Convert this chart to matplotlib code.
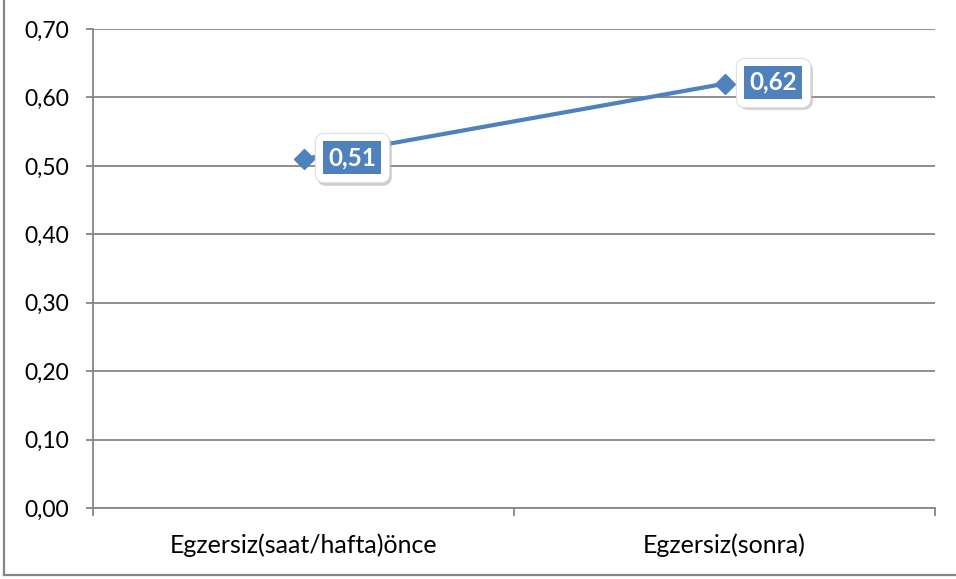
import matplotlib
matplotlib.use("Agg")
import matplotlib.pyplot as plt
from matplotlib.lines import Line2D
import matplotlib.patheffects as pe

# veriler
kategoriler = ["Egzersiz(saat/hafta)önce", "Egzersiz(sonra)"]
degerler = [0.51, 0.62]
y_ticks = [0.0, 0.1, 0.2, 0.3, 0.4, 0.5, 0.6, 0.7]

mavi = "#4F81BD"
gri = "#868686"
plt.rcParams["font.family"] = ["Lato", "DejaVu Sans"]

fig = plt.figure(figsize=(9.56, 5.79), dpi=100)
ax = fig.add_axes([93 / 956, 71 / 579, 842 / 956, 479 / 579])

x = list(range(len(kategoriler)))
ax.plot(x, degerler, color=mavi, lw=3, marker="D", ms=10, zorder=3)

ax.set_xlim(-0.5, len(kategoriler) - 0.5)
ax.set_ylim(0, 0.7)
ax.set_yticks(y_ticks)
ax.set_yticklabels([f"{v:.2f}".replace(".", ",") for v in y_ticks])
ax.yaxis.grid(True, color=gri, lw=1.3)
ax.set_axisbelow(True)

# kategori sınırlarında tik, ortada etiket
ax.set_xticks([i - 0.5 for i in range(len(kategoriler) + 1)])
ax.set_xticklabels([])
ax.set_xticks(x, minor=True)
ax.set_xticklabels(kategoriler, minor=True)
ax.tick_params(axis="x", which="major", length=6, width=1.3, color=gri)
ax.tick_params(axis="x", which="minor", length=0, pad=18, labelsize=18)
ax.tick_params(axis="y", length=5, width=1.3, color=gri, pad=12, labelsize=16.5)

for s in ["top", "right"]:
    ax.spines[s].set_visible(False)
for s in ["left", "bottom"]:
    ax.spines[s].set_color(gri)
    ax.spines[s].set_linewidth(1.3)

# değer etiketleri: mavi kutu, çevresinde gölgeli beyaz çerçeve
for xi, v in zip(x, degerler):
    metin = f"{v:.2f}".replace(".", ",")
    t = ax.annotate(metin, xy=(xi, v), xytext=(35, 1), textcoords="offset points",
                    ha="center", va="center", fontsize=17.5, fontweight="bold",
                    color="white", zorder=6,
                    bbox=dict(boxstyle="square,pad=0.2", fc=mavi, ec="none"))
    t.get_bbox_patch().set_path_effects([
        pe.Stroke(linewidth=12, foreground="#b0b0b0", alpha=0.6, offset=(1.5, -2), joinstyle="round"),
        pe.Stroke(linewidth=12.5, foreground="#dddddd", joinstyle="round"),
        pe.Stroke(linewidth=11, foreground="white", joinstyle="round"),
        pe.Normal(),
    ])

# dış çerçeve
fig.add_artist(Line2D([4 / 956, 4 / 956], [1, 4 / 579], transform=fig.transFigure, color=gri, lw=1.6))
fig.add_artist(Line2D([4 / 956, 1], [4 / 579, 4 / 579], transform=fig.transFigure, color=gri, lw=1.6))

fig.savefig("out.png", dpi=100)
